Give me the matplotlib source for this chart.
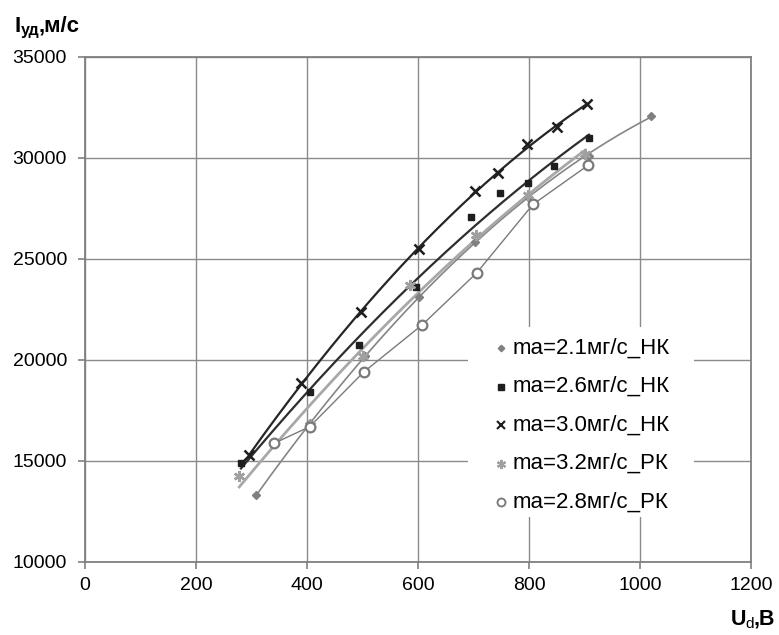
import numpy as np
import matplotlib.pyplot as plt
from matplotlib.lines import Line2D
from matplotlib.patches import Rectangle

plt.rcParams['font.family'] = ['Liberation Sans', 'DejaVu Sans']

# ma = 2.1 mg/s, HK
x21 = [309, 405, 505, 601, 703, 798, 908, 1020]
y21 = [13300, 16860, 20200, 23100, 25850, 28050, 30100, 32100]
# ma = 2.6 mg/s, HK
x26 = [281, 406, 493, 597, 695, 748, 798, 845, 908]
y26 = [14900, 18400, 20750, 23600, 27100, 28250, 28750, 29600, 31000]
# ma = 3.0 mg/s, HK
x30 = [296, 390, 497, 602, 703, 745, 797, 850, 905]
y30 = [15300, 18850, 22400, 25475, 28350, 29250, 30700, 31550, 32650]
# ma = 3.2 mg/s, PK
x32 = [278, 405, 500, 585, 705, 798, 901]
y32 = [14250, 16800, 20200, 23700, 26200, 28150, 30200]
# ma = 2.8 mg/s, PK
x28 = [341, 405, 502, 608, 706, 807, 907]
y28 = [15880, 16700, 19400, 21750, 24320, 27700, 29650]

labels = ['ma=2.1мг/с_НК', 'ma=2.6мг/с_НК', 'ma=3.0мг/с_НК',
          'ma=3.2мг/с_РК', 'ma=2.8мг/с_РК']

xticks = [0, 200, 400, 600, 800, 1000, 1200]
yticks = [10000, 15000, 20000, 25000, 30000, 35000]

W, H = 779, 635
star = (6, 2, 0)

styles = [
    dict(marker='D', ms=4, color='#808080'),
    dict(marker='s', ms=5, color='#1e1e1e'),
    dict(marker='x', ms=6.5, mew=1.8, color='#1e1e1e'),
    dict(marker=star, ms=8, mew=1.8, color='#a0a0a0'),
    dict(marker='o', ms=7, mew=1.6, mfc='white', color='#7a7a7a'),
]
# slightly smaller symbols in the legend
legend_scale = 0.82


def trend(ax, x, y, color, lw):
    # second order polynomial trendline over the data range
    p = np.polyfit(x, y, 2)
    xx = np.linspace(min(x), max(x), 200)
    ax.plot(xx, np.polyval(p, xx), color=color, lw=lw, zorder=3)


def fx(px):
    return px / W


def fy(py):
    return 1 - py / H


fig = plt.figure(figsize=(W / 100, H / 100), dpi=100)
ax = fig.add_axes([fx(85), fy(562), 666 / W, 505 / H])

trend(ax, x21, y21, '#858585', 1.2)
trend(ax, x26, y26, '#2e2e2e', 1.6)
trend(ax, x30, y30, '#262626', 1.6)
trend(ax, x32, y32, '#a8a8a8', 2.0)
ax.plot(x28, y28, color='#7a7a7a', lw=1.0, zorder=3)

series = [(x21, y21), (x26, y26), (x30, y30), (x32, y32), (x28, y28)]
for (x, y), st in zip(series, styles):
    ax.plot(x, y, ls='none', zorder=4, **st)

ax.set_xlim(0, 1200)
ax.set_ylim(10000, 35000)
ax.set_xticks(xticks)
ax.set_yticks(yticks)
ax.grid(True, color='#8a8a8a', lw=1.0)
ax.set_axisbelow(True)
for s in ax.spines.values():
    s.set_color('#808080')
    s.set_linewidth(1.3)
ax.tick_params(direction='out', length=5, width=1.2, color='#808080',
               labelsize=14)
ax.tick_params(axis='x', pad=5.5)
ax.tick_params(axis='y', pad=8)

# legend block on a white background
fig.add_artist(Rectangle((fx(468), fy(517)), 226 / W, 190 / H,
                         transform=fig.transFigure, facecolor='white',
                         edgecolor='none', zorder=1))
rows = [348, 386.5, 425, 463.5, 502]
for py, st, lab in zip(rows, styles, labels):
    lst = dict(st)
    lst['ms'] = st['ms'] * legend_scale
    if 'mew' in lst:
        lst['mew'] = st['mew'] * 0.85
    fig.add_artist(Line2D([fx(501)], [fy(py)], transform=fig.transFigure,
                          ls='none', zorder=2, **lst))
    fig.text(fx(512.5), fy(py), lab, fontsize=16, va='center', ha='left',
             zorder=3)

# axis captions with subscripts
fig.text(fx(14), fy(31.7), 'I', fontsize=16, weight='bold', va='baseline')
fig.text(fx(20.5), fy(35), 'уд', fontsize=11.5, weight='bold', va='baseline')
fig.text(fx(38.5), fy(31.7), ',м/с', fontsize=16, weight='bold', va='baseline')

fig.text(fx(731), fy(625), 'U', fontsize=15.5, weight='bold', va='baseline')
fig.text(fx(745), fy(628), 'd', fontsize=11, va='baseline')
fig.text(fx(753.5), fy(625), ',B', fontsize=15.5, weight='bold', va='baseline')

fig.savefig('out.png', dpi=100)
